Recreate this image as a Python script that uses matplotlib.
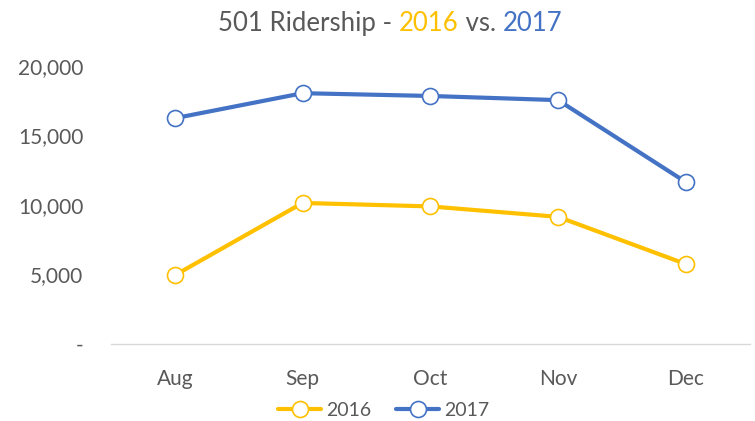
"""501 Ridership line chart, 2016 vs. 2017 (Aug-Dec)."""

import matplotlib

matplotlib.use("Agg")
import matplotlib.pyplot as plt
from matplotlib.ticker import FuncFormatter

months = ["Aug", "Sep", "Oct", "Nov", "Dec"]
riders_2016 = [4950, 10150, 9900, 9150, 5750]
riders_2017 = [16250, 18050, 17850, 17550, 11650]
y_ticks = [0, 5000, 10000, 15000, 20000]

GOLD = "#FFC000"
BLUE = "#4472C4"
GRAY = "#595959"

plt.rcParams["font.family"] = ["Lato", "DejaVu Sans"]

fig = plt.figure(figsize=(7.55, 4.21), dpi=100)
ax = fig.add_axes([0.147, 0.183, 0.846, 0.660])

x = range(len(months))
for values, color, label in [(riders_2016, GOLD, "2016"), (riders_2017, BLUE, "2017")]:
    ax.plot(
        x,
        values,
        color=color,
        linewidth=3.0,
        marker="o",
        markersize=11.5,
        markerfacecolor="white",
        markeredgecolor=color,
        markeredgewidth=1.2,
        label=label,
        solid_capstyle="round",
    )

ax.set_xlim(-0.5, len(months) - 0.5)
ax.set_ylim(0, 20000)
ax.set_xticks(list(x))
ax.set_xticklabels(months)
ax.set_yticks(y_ticks)
ax.yaxis.set_major_formatter(FuncFormatter(lambda v, _: "-" if v == 0 else f"{v:,.0f}"))
ax.tick_params(axis="both", length=0, labelsize=15, labelcolor=GRAY)
ax.tick_params(axis="x", pad=18)
ax.tick_params(axis="y", pad=20)

for side in ["top", "right", "left"]:
    ax.spines[side].set_visible(False)
ax.spines["bottom"].set_color("#D9D9D9")
ax.spines["bottom"].set_linewidth(1.0)

# multi-coloured title pieces, laid out left to right and centred as a group
pieces = [("501 Ridership - ", GRAY), ("2016", GOLD), (" vs. ", GRAY), ("2017", BLUE)]
renderer = fig.canvas.get_renderer()
texts = []
for s, c in pieces:
    t = fig.text(0, 0.945, s, color=c, fontsize=18.5, ha="left", va="center")
    texts.append(t)
widths = [t.get_window_extent(renderer).width for t in texts]
cur = (390 - sum(widths) / 2) / 755
for t, w in zip(texts, widths):
    t.set_x(cur)
    cur += w / 755

leg = fig.legend(
    loc="center",
    bbox_to_anchor=(0.508, 0.026),
    ncol=2,
    frameon=False,
    fontsize=14,
    handlelength=2.2,
    columnspacing=1.3,
    handletextpad=0.25,
)
for txt in leg.get_texts():
    txt.set_color(GRAY)

fig.savefig("out.png", dpi=100)
plt.close(fig)
